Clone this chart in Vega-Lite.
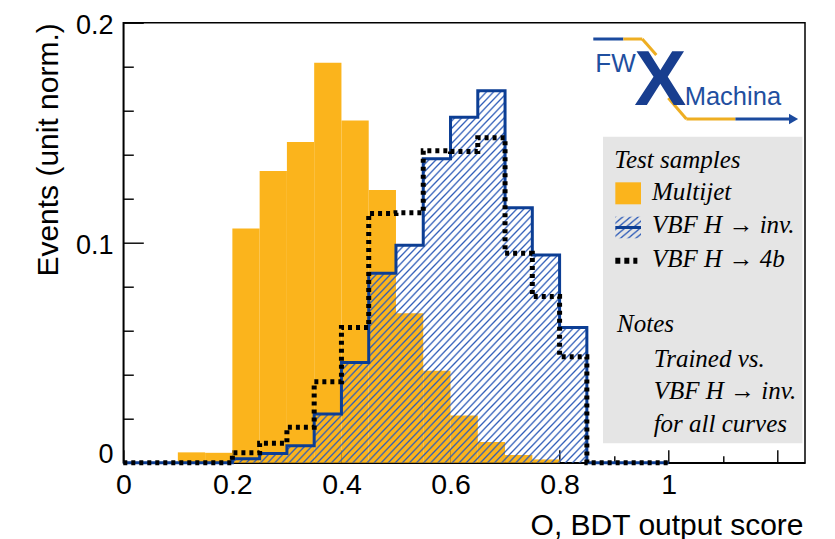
{
"$schema":"https://vega.github.io/schema/vega-lite/v6.json",
"width":681.7,"height":440,
"autosize":{"type":"none"},
"padding":{"left":123.3,"top":22.7,"right":30,"bottom":76.3},
"background":"white",
"config":{"view":{"stroke":"#000","strokeWidth":1.5},"font":"Liberation Sans"},
"datasets":{"hist":[
{"lo":0,"hi":0.05,"multijet":0,"vbf_inv":0,"vbf_4b":0},
{"lo":0.05,"hi":0.1,"multijet":0,"vbf_inv":0,"vbf_4b":0},
{"lo":0.1,"hi":0.15,"multijet":0.0047,"vbf_inv":0,"vbf_4b":0},
{"lo":0.15,"hi":0.2,"multijet":0.0045,"vbf_inv":0,"vbf_4b":0},
{"lo":0.2,"hi":0.25,"multijet":0.1064,"vbf_inv":0.0018,"vbf_4b":0.0045},
{"lo":0.25,"hi":0.3,"multijet":0.1326,"vbf_inv":0.0042,"vbf_4b":0.0088},
{"lo":0.3,"hi":0.35,"multijet":0.1458,"vbf_inv":0.0077,"vbf_4b":0.0161},
{"lo":0.35,"hi":0.4,"multijet":0.1818,"vbf_inv":0.0221,"vbf_4b":0.0368},
{"lo":0.4,"hi":0.45,"multijet":0.1555,"vbf_inv":0.0455,"vbf_4b":0.0615},
{"lo":0.45,"hi":0.5,"multijet":0.1239,"vbf_inv":0.0861,"vbf_4b":0.1133},
{"lo":0.5,"hi":0.55,"multijet":0.0679,"vbf_inv":0.0988,"vbf_4b":0.1136},
{"lo":0.55,"hi":0.6,"multijet":0.0418,"vbf_inv":0.1382,"vbf_4b":0.1418},
{"lo":0.6,"hi":0.65,"multijet":0.0214,"vbf_inv":0.157,"vbf_4b":0.1414},
{"lo":0.65,"hi":0.7,"multijet":0.0094,"vbf_inv":0.1691,"vbf_4b":0.1477},
{"lo":0.7,"hi":0.75,"multijet":0.0035,"vbf_inv":0.1159,"vbf_4b":0.0952},
{"lo":0.75,"hi":0.8,"multijet":0.0015,"vbf_inv":0.0944,"vbf_4b":0.0755},
{"lo":0.8,"hi":0.85,"multijet":0,"vbf_inv":0.0614,"vbf_4b":0.0482},
{"lo":0.85,"hi":0.9,"multijet":0,"vbf_inv":0,"vbf_4b":0},
{"lo":0.9,"hi":0.95,"multijet":0,"vbf_inv":0,"vbf_4b":0},
{"lo":0.95,"hi":1,"multijet":0,"vbf_inv":0,"vbf_4b":0},
{"lo":1,"hi":1.05,"multijet":0,"vbf_inv":0,"vbf_4b":0}
]},
"data":{"name":"hist"},
"layer":[
{"transform":[{"filter":"datum.multijet > 0"}],
 "mark":{"type":"rect","fill":"#fbb41c"},
 "encoding":{
  "x":{"field":"lo","type":"quantitative","scale":{"domain":[0,1.25],"nice":false,"zero":false},
   "axis":{"title":"O, BDT output score","values":[0,0.05,0.1,0.15,0.2,0.25,0.3,0.35,0.4,0.45,0.5,0.55,0.6,0.65,0.7,0.75,0.8,0.85,0.9,0.95,1,1.05,1.1,1.15,1.2],
    "format":"~g","labelExpr":"round(datum.value*20) % 4 === 0 && datum.value < 1.1 ? datum.label : ''",
    "grid":false,"tickSize":0,"tickColor":"#000","tickWidth":1.4,"domainColor":"#000","domainWidth":1.5,
    "labelFont":"Liberation Sans","labelFontSize":28.5,"labelColor":"#000","labelPadding":8,"labelFlush":false,"labelOverlap":false,"labelBaseline":"top",
    "titleFont":"Liberation Sans","titleFontSize":30,"titleFontWeight":"normal","titleColor":"#000","titleX":679.7,"titleY":71.3,"titleAlign":"right","titleBaseline":"alphabetic",
    "encoding":{"ticks":{"y2":{"value":{"expr":"round(datum.value*20) % 4 === 0 ? -13 : -7"}}}}}},
  "x2":{"field":"hi"},
  "y":{"field":"multijet","type":"quantitative","scale":{"domain":[0,0.2],"nice":false,"zero":true},
   "axis":{"title":"Events (unit norm.)","values":[0,0.02,0.04,0.06,0.08,0.1,0.12,0.14,0.16,0.18,0.2],
    "format":"~g","labelExpr":"round(datum.value*50) % 5 === 0 ? datum.label : ''",
    "grid":false,"tickSize":0,"tickColor":"#000","tickWidth":1.4,"domainColor":"#000","domainWidth":1.5,
    "labelFont":"Liberation Sans","labelFontSize":27,"labelColor":"#000","labelPadding":10.3,"labelOffset":3,"labelFlush":false,"labelOverlap":false,"labelBaseline":"middle",
    "titleFont":"Liberation Sans","titleFontSize":30,"titleFontWeight":"normal","titleColor":"#000","titleX":-66.3,"titleY":0,"titleAngle":-90,"titleAlign":"right","titleBaseline":"alphabetic",
    "encoding":{"ticks":{"x2":{"value":{"expr":"round(datum.value*50) % 5 === 0 ? 20 : 10"}}},"labels":{"dy":{"value":{"expr":"datum.value === 0 ? -11 : 0"}}}}}},
  "y2":{"datum":0}
 }},
{"transform":[{"filter":"datum.lo >= 0.2 && datum.lo <= 0.85"}],
 "mark":{"type":"area","interpolate":"step-after","fill":{"gradient":"linear","x1":0,"y1":0,"x2":1,"y2":1,"stops":[
{"offset":0,"color":"#2e5cb8"},{"offset":0.0025,"color":"#2e5cb800"},{"offset":0.0075,"color":"#2e5cb800"},
{"offset":0.01,"color":"#2e5cb8"},{"offset":0.0125,"color":"#2e5cb800"},{"offset":0.0175,"color":"#2e5cb800"},
{"offset":0.02,"color":"#2e5cb8"},{"offset":0.0225,"color":"#2e5cb800"},{"offset":0.0275,"color":"#2e5cb800"},
{"offset":0.03,"color":"#2e5cb8"},{"offset":0.0325,"color":"#2e5cb800"},{"offset":0.0375,"color":"#2e5cb800"},
{"offset":0.04,"color":"#2e5cb8"},{"offset":0.0425,"color":"#2e5cb800"},{"offset":0.0475,"color":"#2e5cb800"},
{"offset":0.05,"color":"#2e5cb8"},{"offset":0.0525,"color":"#2e5cb800"},{"offset":0.0575,"color":"#2e5cb800"},
{"offset":0.06,"color":"#2e5cb8"},{"offset":0.0625,"color":"#2e5cb800"},{"offset":0.0675,"color":"#2e5cb800"},
{"offset":0.07,"color":"#2e5cb8"},{"offset":0.0725,"color":"#2e5cb800"},{"offset":0.0775,"color":"#2e5cb800"},
{"offset":0.08,"color":"#2e5cb8"},{"offset":0.0825,"color":"#2e5cb800"},{"offset":0.0875,"color":"#2e5cb800"},
{"offset":0.09,"color":"#2e5cb8"},{"offset":0.0925,"color":"#2e5cb800"},{"offset":0.0975,"color":"#2e5cb800"},
{"offset":0.1,"color":"#2e5cb8"},{"offset":0.1025,"color":"#2e5cb800"},{"offset":0.1075,"color":"#2e5cb800"},
{"offset":0.11,"color":"#2e5cb8"},{"offset":0.1125,"color":"#2e5cb800"},{"offset":0.1175,"color":"#2e5cb800"},
{"offset":0.12,"color":"#2e5cb8"},{"offset":0.1225,"color":"#2e5cb800"},{"offset":0.1275,"color":"#2e5cb800"},
{"offset":0.13,"color":"#2e5cb8"},{"offset":0.1325,"color":"#2e5cb800"},{"offset":0.1375,"color":"#2e5cb800"},
{"offset":0.14,"color":"#2e5cb8"},{"offset":0.1425,"color":"#2e5cb800"},{"offset":0.1475,"color":"#2e5cb800"},
{"offset":0.15,"color":"#2e5cb8"},{"offset":0.1525,"color":"#2e5cb800"},{"offset":0.1575,"color":"#2e5cb800"},
{"offset":0.16,"color":"#2e5cb8"},{"offset":0.1625,"color":"#2e5cb800"},{"offset":0.1675,"color":"#2e5cb800"},
{"offset":0.17,"color":"#2e5cb8"},{"offset":0.1725,"color":"#2e5cb800"},{"offset":0.1775,"color":"#2e5cb800"},
{"offset":0.18,"color":"#2e5cb8"},{"offset":0.1825,"color":"#2e5cb800"},{"offset":0.1875,"color":"#2e5cb800"},
{"offset":0.19,"color":"#2e5cb8"},{"offset":0.1925,"color":"#2e5cb800"},{"offset":0.1975,"color":"#2e5cb800"},
{"offset":0.2,"color":"#2e5cb8"},{"offset":0.2025,"color":"#2e5cb800"},{"offset":0.2075,"color":"#2e5cb800"},
{"offset":0.21,"color":"#2e5cb8"},{"offset":0.2125,"color":"#2e5cb800"},{"offset":0.2175,"color":"#2e5cb800"},
{"offset":0.22,"color":"#2e5cb8"},{"offset":0.2225,"color":"#2e5cb800"},{"offset":0.2275,"color":"#2e5cb800"},
{"offset":0.23,"color":"#2e5cb8"},{"offset":0.2325,"color":"#2e5cb800"},{"offset":0.2375,"color":"#2e5cb800"},
{"offset":0.24,"color":"#2e5cb8"},{"offset":0.2425,"color":"#2e5cb800"},{"offset":0.2475,"color":"#2e5cb800"},
{"offset":0.25,"color":"#2e5cb8"},{"offset":0.2525,"color":"#2e5cb800"},{"offset":0.2575,"color":"#2e5cb800"},
{"offset":0.26,"color":"#2e5cb8"},{"offset":0.2625,"color":"#2e5cb800"},{"offset":0.2675,"color":"#2e5cb800"},
{"offset":0.27,"color":"#2e5cb8"},{"offset":0.2725,"color":"#2e5cb800"},{"offset":0.2775,"color":"#2e5cb800"},
{"offset":0.28,"color":"#2e5cb8"},{"offset":0.2825,"color":"#2e5cb800"},{"offset":0.2875,"color":"#2e5cb800"},
{"offset":0.29,"color":"#2e5cb8"},{"offset":0.2925,"color":"#2e5cb800"},{"offset":0.2975,"color":"#2e5cb800"},
{"offset":0.3,"color":"#2e5cb8"},{"offset":0.3025,"color":"#2e5cb800"},{"offset":0.3075,"color":"#2e5cb800"},
{"offset":0.31,"color":"#2e5cb8"},{"offset":0.3125,"color":"#2e5cb800"},{"offset":0.3175,"color":"#2e5cb800"},
{"offset":0.32,"color":"#2e5cb8"},{"offset":0.3225,"color":"#2e5cb800"},{"offset":0.3275,"color":"#2e5cb800"},
{"offset":0.33,"color":"#2e5cb8"},{"offset":0.3325,"color":"#2e5cb800"},{"offset":0.3375,"color":"#2e5cb800"},
{"offset":0.34,"color":"#2e5cb8"},{"offset":0.3425,"color":"#2e5cb800"},{"offset":0.3475,"color":"#2e5cb800"},
{"offset":0.35,"color":"#2e5cb8"},{"offset":0.3525,"color":"#2e5cb800"},{"offset":0.3575,"color":"#2e5cb800"},
{"offset":0.36,"color":"#2e5cb8"},{"offset":0.3625,"color":"#2e5cb800"},{"offset":0.3675,"color":"#2e5cb800"},
{"offset":0.37,"color":"#2e5cb8"},{"offset":0.3725,"color":"#2e5cb800"},{"offset":0.3775,"color":"#2e5cb800"},
{"offset":0.38,"color":"#2e5cb8"},{"offset":0.3825,"color":"#2e5cb800"},{"offset":0.3875,"color":"#2e5cb800"},
{"offset":0.39,"color":"#2e5cb8"},{"offset":0.3925,"color":"#2e5cb800"},{"offset":0.3975,"color":"#2e5cb800"},
{"offset":0.4,"color":"#2e5cb8"},{"offset":0.4025,"color":"#2e5cb800"},{"offset":0.4075,"color":"#2e5cb800"},
{"offset":0.41,"color":"#2e5cb8"},{"offset":0.4125,"color":"#2e5cb800"},{"offset":0.4175,"color":"#2e5cb800"},
{"offset":0.42,"color":"#2e5cb8"},{"offset":0.4225,"color":"#2e5cb800"},{"offset":0.4275,"color":"#2e5cb800"},
{"offset":0.43,"color":"#2e5cb8"},{"offset":0.4325,"color":"#2e5cb800"},{"offset":0.4375,"color":"#2e5cb800"},
{"offset":0.44,"color":"#2e5cb8"},{"offset":0.4425,"color":"#2e5cb800"},{"offset":0.4475,"color":"#2e5cb800"},
{"offset":0.45,"color":"#2e5cb8"},{"offset":0.4525,"color":"#2e5cb800"},{"offset":0.4575,"color":"#2e5cb800"},
{"offset":0.46,"color":"#2e5cb8"},{"offset":0.4625,"color":"#2e5cb800"},{"offset":0.4675,"color":"#2e5cb800"},
{"offset":0.47,"color":"#2e5cb8"},{"offset":0.4725,"color":"#2e5cb800"},{"offset":0.4775,"color":"#2e5cb800"},
{"offset":0.48,"color":"#2e5cb8"},{"offset":0.4825,"color":"#2e5cb800"},{"offset":0.4875,"color":"#2e5cb800"},
{"offset":0.49,"color":"#2e5cb8"},{"offset":0.4925,"color":"#2e5cb800"},{"offset":0.4975,"color":"#2e5cb800"},
{"offset":0.5,"color":"#2e5cb8"},{"offset":0.5025,"color":"#2e5cb800"},{"offset":0.5075,"color":"#2e5cb800"},
{"offset":0.51,"color":"#2e5cb8"},{"offset":0.5125,"color":"#2e5cb800"},{"offset":0.5175,"color":"#2e5cb800"},
{"offset":0.52,"color":"#2e5cb8"},{"offset":0.5225,"color":"#2e5cb800"},{"offset":0.5275,"color":"#2e5cb800"},
{"offset":0.53,"color":"#2e5cb8"},{"offset":0.5325,"color":"#2e5cb800"},{"offset":0.5375,"color":"#2e5cb800"},
{"offset":0.54,"color":"#2e5cb8"},{"offset":0.5425,"color":"#2e5cb800"},{"offset":0.5475,"color":"#2e5cb800"},
{"offset":0.55,"color":"#2e5cb8"},{"offset":0.5525,"color":"#2e5cb800"},{"offset":0.5575,"color":"#2e5cb800"},
{"offset":0.56,"color":"#2e5cb8"},{"offset":0.5625,"color":"#2e5cb800"},{"offset":0.5675,"color":"#2e5cb800"},
{"offset":0.57,"color":"#2e5cb8"},{"offset":0.5725,"color":"#2e5cb800"},{"offset":0.5775,"color":"#2e5cb800"},
{"offset":0.58,"color":"#2e5cb8"},{"offset":0.5825,"color":"#2e5cb800"},{"offset":0.5875,"color":"#2e5cb800"},
{"offset":0.59,"color":"#2e5cb8"},{"offset":0.5925,"color":"#2e5cb800"},{"offset":0.5975,"color":"#2e5cb800"},
{"offset":0.6,"color":"#2e5cb8"},{"offset":0.6025,"color":"#2e5cb800"},{"offset":0.6075,"color":"#2e5cb800"},
{"offset":0.61,"color":"#2e5cb8"},{"offset":0.6125,"color":"#2e5cb800"},{"offset":0.6175,"color":"#2e5cb800"},
{"offset":0.62,"color":"#2e5cb8"},{"offset":0.6225,"color":"#2e5cb800"},{"offset":0.6275,"color":"#2e5cb800"},
{"offset":0.63,"color":"#2e5cb8"},{"offset":0.6325,"color":"#2e5cb800"},{"offset":0.6375,"color":"#2e5cb800"},
{"offset":0.64,"color":"#2e5cb8"},{"offset":0.6425,"color":"#2e5cb800"},{"offset":0.6475,"color":"#2e5cb800"},
{"offset":0.65,"color":"#2e5cb8"},{"offset":0.6525,"color":"#2e5cb800"},{"offset":0.6575,"color":"#2e5cb800"},
{"offset":0.66,"color":"#2e5cb8"},{"offset":0.6625,"color":"#2e5cb800"},{"offset":0.6675,"color":"#2e5cb800"},
{"offset":0.67,"color":"#2e5cb8"},{"offset":0.6725,"color":"#2e5cb800"},{"offset":0.6775,"color":"#2e5cb800"},
{"offset":0.68,"color":"#2e5cb8"},{"offset":0.6825,"color":"#2e5cb800"},{"offset":0.6875,"color":"#2e5cb800"},
{"offset":0.69,"color":"#2e5cb8"},{"offset":0.6925,"color":"#2e5cb800"},{"offset":0.6975,"color":"#2e5cb800"},
{"offset":0.7,"color":"#2e5cb8"},{"offset":0.7025,"color":"#2e5cb800"},{"offset":0.7075,"color":"#2e5cb800"},
{"offset":0.71,"color":"#2e5cb8"},{"offset":0.7125,"color":"#2e5cb800"},{"offset":0.7175,"color":"#2e5cb800"},
{"offset":0.72,"color":"#2e5cb8"},{"offset":0.7225,"color":"#2e5cb800"},{"offset":0.7275,"color":"#2e5cb800"},
{"offset":0.73,"color":"#2e5cb8"},{"offset":0.7325,"color":"#2e5cb800"},{"offset":0.7375,"color":"#2e5cb800"},
{"offset":0.74,"color":"#2e5cb8"},{"offset":0.7425,"color":"#2e5cb800"},{"offset":0.7475,"color":"#2e5cb800"},
{"offset":0.75,"color":"#2e5cb8"},{"offset":0.7525,"color":"#2e5cb800"},{"offset":0.7575,"color":"#2e5cb800"},
{"offset":0.76,"color":"#2e5cb8"},{"offset":0.7625,"color":"#2e5cb800"},{"offset":0.7675,"color":"#2e5cb800"},
{"offset":0.77,"color":"#2e5cb8"},{"offset":0.7725,"color":"#2e5cb800"},{"offset":0.7775,"color":"#2e5cb800"},
{"offset":0.78,"color":"#2e5cb8"},{"offset":0.7825,"color":"#2e5cb800"},{"offset":0.7875,"color":"#2e5cb800"},
{"offset":0.79,"color":"#2e5cb8"},{"offset":0.7925,"color":"#2e5cb800"},{"offset":0.7975,"color":"#2e5cb800"},
{"offset":0.8,"color":"#2e5cb8"},{"offset":0.8025,"color":"#2e5cb800"},{"offset":0.8075,"color":"#2e5cb800"},
{"offset":0.81,"color":"#2e5cb8"},{"offset":0.8125,"color":"#2e5cb800"},{"offset":0.8175,"color":"#2e5cb800"},
{"offset":0.82,"color":"#2e5cb8"},{"offset":0.8225,"color":"#2e5cb800"},{"offset":0.8275,"color":"#2e5cb800"},
{"offset":0.83,"color":"#2e5cb8"},{"offset":0.8325,"color":"#2e5cb800"},{"offset":0.8375,"color":"#2e5cb800"},
{"offset":0.84,"color":"#2e5cb8"},{"offset":0.8425,"color":"#2e5cb800"},{"offset":0.8475,"color":"#2e5cb800"},
{"offset":0.85,"color":"#2e5cb8"},{"offset":0.8525,"color":"#2e5cb800"},{"offset":0.8575,"color":"#2e5cb800"},
{"offset":0.86,"color":"#2e5cb8"},{"offset":0.8625,"color":"#2e5cb800"},{"offset":0.8675,"color":"#2e5cb800"},
{"offset":0.87,"color":"#2e5cb8"},{"offset":0.8725,"color":"#2e5cb800"},{"offset":0.8775,"color":"#2e5cb800"},
{"offset":0.88,"color":"#2e5cb8"},{"offset":0.8825,"color":"#2e5cb800"},{"offset":0.8875,"color":"#2e5cb800"},
{"offset":0.89,"color":"#2e5cb8"},{"offset":0.8925,"color":"#2e5cb800"},{"offset":0.8975,"color":"#2e5cb800"},
{"offset":0.9,"color":"#2e5cb8"},{"offset":0.9025,"color":"#2e5cb800"},{"offset":0.9075,"color":"#2e5cb800"},
{"offset":0.91,"color":"#2e5cb8"},{"offset":0.9125,"color":"#2e5cb800"},{"offset":0.9175,"color":"#2e5cb800"},
{"offset":0.92,"color":"#2e5cb8"},{"offset":0.9225,"color":"#2e5cb800"},{"offset":0.9275,"color":"#2e5cb800"},
{"offset":0.93,"color":"#2e5cb8"},{"offset":0.9325,"color":"#2e5cb800"},{"offset":0.9375,"color":"#2e5cb800"},
{"offset":0.94,"color":"#2e5cb8"},{"offset":0.9425,"color":"#2e5cb800"},{"offset":0.9475,"color":"#2e5cb800"},
{"offset":0.95,"color":"#2e5cb8"},{"offset":0.9525,"color":"#2e5cb800"},{"offset":0.9575,"color":"#2e5cb800"},
{"offset":0.96,"color":"#2e5cb8"},{"offset":0.9625,"color":"#2e5cb800"},{"offset":0.9675,"color":"#2e5cb800"},
{"offset":0.97,"color":"#2e5cb8"},{"offset":0.9725,"color":"#2e5cb800"},{"offset":0.9775,"color":"#2e5cb800"},
{"offset":0.98,"color":"#2e5cb8"},{"offset":0.9825,"color":"#2e5cb800"},{"offset":0.9875,"color":"#2e5cb800"},
{"offset":0.99,"color":"#2e5cb8"},{"offset":0.9925,"color":"#2e5cb800"},{"offset":0.9975,"color":"#2e5cb800"},
{"offset":1,"color":"#2e5cb8"}]}},
 "encoding":{"x":{"field":"lo","type":"quantitative"},"y":{"field":"vbf_inv","type":"quantitative","stack":null}}},
{"mark":{"type":"line","interpolate":"step-after","stroke":"#0c3e94","strokeWidth":3,"strokeJoin":"miter"},
 "encoding":{"x":{"field":"lo","type":"quantitative"},"y":{"field":"vbf_inv","type":"quantitative"}}},
{"mark":{"type":"line","interpolate":"step-after","stroke":"#000","strokeWidth":5,"strokeDash":[4,4],"strokeJoin":"miter"},
 "encoding":{"x":{"field":"lo","type":"quantitative"},"y":{"field":"vbf_4b","type":"quantitative"}}},
{"data":{"values":[{}]},"mark":{"type":"rect","fill":"#e5e5e5"},
 "encoding":{"x":{"datum":0.8796,"type":"quantitative"},"x2":{"datum":1.2453},"y":{"datum":0.14818,"type":"quantitative"},"y2":{"datum":0.00882}}},
{"data":{"values":[{}]},"mark":{"type":"rect","fill":"#fbb41c"},
 "encoding":{"x":{"datum":0.9022,"type":"quantitative"},"x2":{"datum":0.9493},"y":{"datum":0.12745,"type":"quantitative"},"y2":{"datum":0.11745}}},
{"data":{"values":[{}]},"mark":{"type":"rect","fill":{"gradient":"linear","x1":0,"y1":0,"x2":1,"y2":1,"stops":[
{"offset":0,"color":"#2e5cb8"},{"offset":0.04,"color":"#2e5cb800"},{"offset":0.11,"color":"#2e5cb800"},
{"offset":0.15,"color":"#2e5cb8"},{"offset":0.19,"color":"#2e5cb800"},{"offset":0.26,"color":"#2e5cb800"},
{"offset":0.3,"color":"#2e5cb8"},{"offset":0.34,"color":"#2e5cb800"},{"offset":0.41,"color":"#2e5cb800"},
{"offset":0.45,"color":"#2e5cb8"},{"offset":0.49,"color":"#2e5cb800"},{"offset":0.56,"color":"#2e5cb800"},
{"offset":0.6,"color":"#2e5cb8"},{"offset":0.64,"color":"#2e5cb800"},{"offset":0.71,"color":"#2e5cb800"},
{"offset":0.75,"color":"#2e5cb8"},{"offset":0.79,"color":"#2e5cb800"},{"offset":0.86,"color":"#2e5cb800"},
{"offset":0.9,"color":"#2e5cb8"},{"offset":0.94,"color":"#2e5cb800"},{"offset":1,"color":"#2e5cb800"}]}},
 "encoding":{"x":{"datum":0.9022,"type":"quantitative"},"x2":{"datum":0.9493},"y":{"datum":0.11182,"type":"quantitative"},"y2":{"datum":0.102}}},
{"data":{"values":[{}]},"mark":{"type":"rule","stroke":"#0c3e94","strokeWidth":3},
 "encoding":{"x":{"datum":0.9022,"type":"quantitative"},"x2":{"datum":0.9493},"y":{"datum":0.10691,"type":"quantitative"}}},
{"data":{"values":[{}]},"mark":{"type":"rule","stroke":"#000","strokeWidth":6,"strokeDash":[5,4]},
 "encoding":{"x":{"datum":0.9022,"type":"quantitative"},"x2":{"datum":0.9426},"y":{"datum":0.09182,"type":"quantitative"}}},
{"data":{"values":[{}]},"mark":{"type":"text","text":"Test samples","font":"Liberation Serif","fontStyle":"italic","fontSize":25,"align":"left","baseline":"alphabetic","color":"#000"},
 "encoding":{"x":{"datum":0.9004,"type":"quantitative"},"y":{"datum":0.13409,"type":"quantitative"}}},
{"data":{"values":[{}]},"mark":{"type":"text","text":["Multijet","VBF H → inv.","VBF H → 4b"],"lineHeight":33.3,"font":"Liberation Serif","fontStyle":"italic","fontSize":25,"align":"left","baseline":"alphabetic","color":"#000"},
 "encoding":{"x":{"datum":0.9695,"type":"quantitative"},"y":{"datum":0.11941,"type":"quantitative"}}},
{"data":{"values":[{}]},"mark":{"type":"text","text":"Notes","font":"Liberation Serif","fontStyle":"italic","fontSize":25,"align":"left","baseline":"alphabetic","color":"#000"},
 "encoding":{"x":{"datum":0.9053,"type":"quantitative"},"y":{"datum":0.05927,"type":"quantitative"}}},
{"data":{"values":[{}]},"mark":{"type":"text","text":["Trained vs.","VBF H → inv.","for all curves"],"lineHeight":32.8,"font":"Liberation Serif","fontStyle":"italic","fontSize":25,"align":"left","baseline":"alphabetic","color":"#000"},
 "encoding":{"x":{"datum":0.9725,"type":"quantitative"},"y":{"datum":0.04364,"type":"quantitative"}}},
{"data":{"values":[{}]},"mark":{"type":"rule","stroke":"#1b4a9e","strokeWidth":3},
 "encoding":{"x":{"datum":0.8618,"type":"quantitative"},"x2":{"datum":0.9169},"y":{"datum":0.19259,"type":"quantitative"}}},
{"data":{"values":[{}]},"mark":{"type":"rule","stroke":"#eeae22","strokeWidth":3},
 "encoding":{"x":{"datum":0.9169,"type":"quantitative"},"x2":{"datum":0.9516},"y":{"datum":0.19259,"type":"quantitative"}}},
{"data":{"values":[{}]},"mark":{"type":"rule","stroke":"#eeae22","strokeWidth":3},
 "encoding":{"x":{"datum":0.9516,"type":"quantitative"},"x2":{"datum":0.9774},"y":{"datum":0.19259,"type":"quantitative"},"y2":{"datum":0.18532}}},
{"data":{"values":[{}]},"mark":{"type":"rule","stroke":"#eeae22","strokeWidth":3},
 "encoding":{"x":{"datum":0.9994,"type":"quantitative"},"x2":{"datum":1.0325},"y":{"datum":0.16577,"type":"quantitative"},"y2":{"datum":0.15623}}},
{"data":{"values":[{}]},"mark":{"type":"rule","stroke":"#eeae22","strokeWidth":3},
 "encoding":{"x":{"datum":1.0325,"type":"quantitative"},"x2":{"datum":1.1224},"y":{"datum":0.15623,"type":"quantitative"}}},
{"data":{"values":[{}]},"mark":{"type":"rule","stroke":"#1b4a9e","strokeWidth":3},
 "encoding":{"x":{"datum":1.1224,"type":"quantitative"},"x2":{"datum":1.227},"y":{"datum":0.15623,"type":"quantitative"}}},
{"data":{"values":[{}]},"mark":{"type":"point","shape":"triangle-right","filled":true,"fill":"#1b4a9e","size":110,"opacity":1},
 "encoding":{"x":{"datum":1.229,"type":"quantitative"},"y":{"datum":0.15623,"type":"quantitative"}}},
{"data":{"values":[{}]},"mark":{"type":"text","text":"FW","font":"Liberation Sans","fontSize":26,"align":"left","baseline":"alphabetic","color":"#1f4fa0"},
 "encoding":{"x":{"datum":0.8655,"type":"quantitative"},"y":{"datum":0.17773,"type":"quantitative"}}},
{"data":{"values":[{}]},"mark":{"type":"text","text":"X","font":"Liberation Sans","fontWeight":"bold","fontSize":78,"align":"center","baseline":"alphabetic","color":"#183e8f"},
 "encoding":{"x":{"datum":0.9848,"type":"quantitative"},"y":{"datum":0.16259,"type":"quantitative"}}},
{"data":{"values":[{}]},"mark":{"type":"text","text":"Machina","font":"Liberation Sans","fontSize":25.5,"align":"left","baseline":"alphabetic","color":"#1f4fa0"},
 "encoding":{"x":{"datum":1.0294,"type":"quantitative"},"y":{"datum":0.16259,"type":"quantitative"}}}
]
}
